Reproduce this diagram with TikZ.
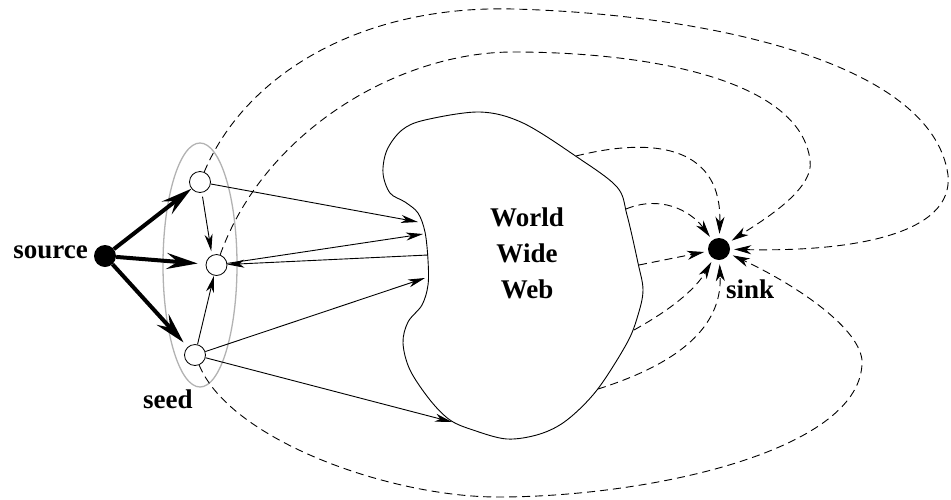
\documentclass[tikz,border=0pt]{standalone}
\usepackage{fontspec}
\setmainfont{Liberation Serif}
\usetikzlibrary{arrows.meta,shapes.geometric}
\begin{document}
\begin{tikzpicture}[x=1pt,y=-1pt,
  lbl/.style={font=\fontsize{27}{36}\selectfont\bfseries, inner sep=0pt},
  dotnode/.style={circle, fill=black, inner sep=0pt, minimum size=22pt},
  seednode/.style={circle, draw, fill=white, line width=0.8pt, inner sep=0pt, minimum size=21pt},
  seedring/.style={ellipse, draw=gray!60, line width=1.3pt, inner sep=0pt, minimum width=74pt, minimum height=244pt},
  blobline/.style={line width=0.9pt},
  harrow/.style={line width=0.9pt, -{Stealth[length=17pt,width=8pt,inset=5pt]}},
  thickarrow/.style={line width=4pt, -{Stealth[length=31pt,width=16pt,inset=11pt]}},
  sinkarrow/.style={line width=0.9pt, dash pattern=on 8pt off 5pt,
     -{Stealth[length=17pt,width=9pt,inset=5pt]}, shorten >=4pt}
]
\useasboundingbox (0,0) rectangle (951,499);

% seed set
\node[seedring] (seedset) at (200,265) {};
\node[seednode] (s1) at (200,182) {};
\node[seednode] (s2) at (216.5,265) {};
\node[seednode] (s3) at (195,355) {};
\node[dotnode] (source) at (105,256) {};
\node[dotnode] (sink) at (719,249) {};

% World Wide Web blob
\draw[blobline] plot[smooth cycle, tension=0.55] coordinates {
  (480,112) (523,123) (577,157) (617,187) (627,215) (638,263) (643,290)
  (638,315) (627,343) (597,390) (567,420) (540,434) (507,439) (473,430)
  (450,420) (430,400) (410,370) (403,343) (408,322) (422,305) (428,285)
  (428,260) (425,232) (418,213) (405,202) (390,193) (383,173) (387,150)
  (402,130) (425,120)};
\node[lbl, align=center] (www) at (527,253) {World\\Wide\\Web};

% points on the blob border
\coordinate (w1) at (418,222);
\coordinate (w2) at (423,234);
\coordinate (w3) at (428,255);
\coordinate (w4) at (425,278);
\coordinate (w5) at (452,422);
\coordinate (d1) at (576,156);
\coordinate (d2) at (626,209);
\coordinate (d3) at (639,265);
\coordinate (d4) at (634,330);
\coordinate (d5) at (598,389);

% labels
\node[lbl, anchor=base east] (srclabel) at (88,258) {source};
\node[lbl, anchor=base west] (seedlabel) at (143,408) {seed};
\node[lbl, anchor=base west] (sinklabel) at (726,298) {sink};

% source to seeds
\draw[thickarrow] (source) -- (s1);
\draw[thickarrow, shorten >=8pt] (source) -- (s2);
\draw[thickarrow, shorten >=6pt] (source) -- (s3);

% inside the seed set
\draw[harrow, shorten <=4pt, shorten >=4pt] (s1.-80) -- (s2.115);
\draw[harrow] (s3) -- (s2);

% seeds and the web
\draw[harrow] (s1) -- (w1);
\draw[harrow] (s2) -- (w2);
\draw[harrow] (w3) -- (s2);
\draw[harrow] (s3) -- (w4);
\draw[harrow] (s3) -- (w5);

% web to sink
\draw[sinkarrow] (d1) .. controls (660,135) and (722,150) .. (sink);
\draw[sinkarrow] (d2) .. controls (660,195) and (690,210) .. (sink);
\draw[sinkarrow] (d3) -- (sink);
\draw[sinkarrow] (d4) .. controls (670,310) and (695,290) .. (sink);
\draw[sinkarrow] (d5) .. controls (690,360) and (722,320) .. (sink);

% seeds to sink
\draw[sinkarrow] (s1) .. controls (245,75) and (360,5) .. (513,9)
   .. controls (700,14) and (932,60) .. (948,175)
   .. controls (954,235) and (850,252) .. (sink);
\draw[sinkarrow] (s2) .. controls (265,130) and (400,52) .. (513,52)
   .. controls (650,52) and (800,80) .. (810,160)
   .. controls (815,190) and (760,222) .. (sink);
\draw[sinkarrow] (s3) .. controls (230,440) and (390,497) .. (498,497)
   .. controls (650,497) and (865,450) .. (862,360)
   .. controls (858,325) and (790,282) .. (sink);
\end{tikzpicture}
\end{document}
